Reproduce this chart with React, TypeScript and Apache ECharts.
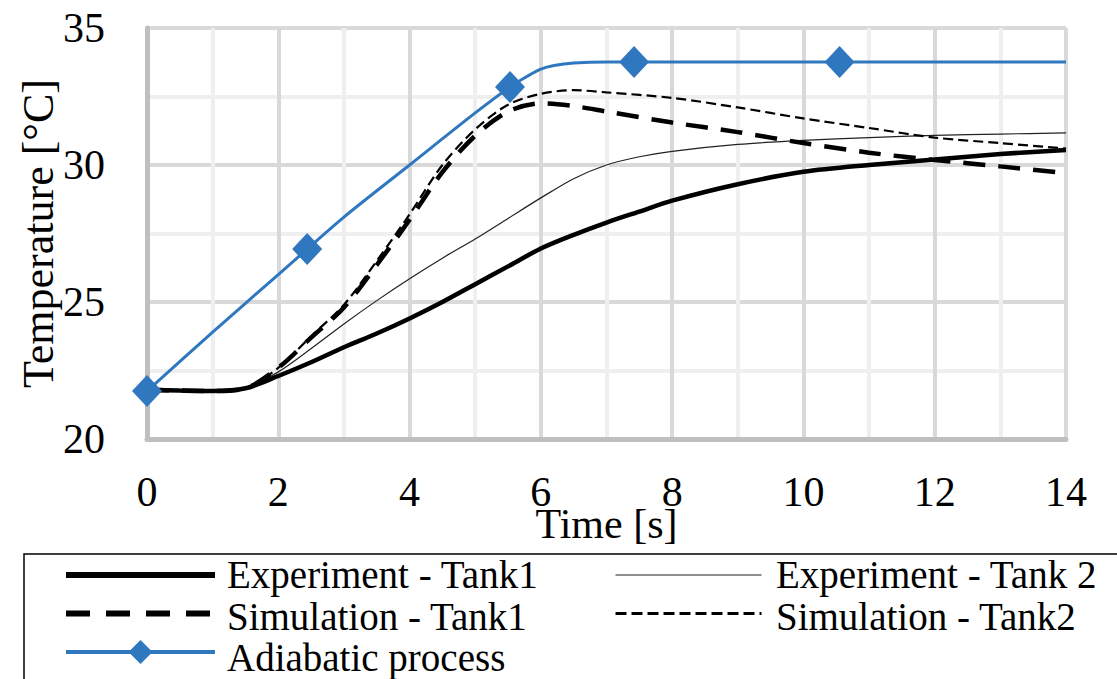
import React, { useEffect, useRef } from "react";
import * as echarts from "echarts";

const FONT = "'Times New Roman', 'Liberation Serif', serif";

// Time axis ticks and temperature axis ticks
const xTicks = { min: 0, max: 14, interval: 2 };
const yTicks = { min: 20, max: 35, interval: 5 };

// Experiment - Tank1
const expTank1Time = [0, 0.5, 1, 1.5, 2, 2.5, 3, 3.5, 4, 4.5, 5, 5.5, 6, 6.5, 7, 7.5, 8, 9, 10, 11, 12, 13, 14];
const expTank1Temp = [21.8, 21.77, 21.75, 21.85, 22.3, 22.8, 23.35, 23.85, 24.4, 25.0, 25.65, 26.3, 26.95, 27.45, 27.9, 28.3, 28.7, 29.3, 29.75, 30.0, 30.2, 30.4, 30.55];

// Experiment - Tank 2
const expTank2Time = [0, 0.5, 1, 1.5, 2, 2.5, 3, 3.5, 4, 4.5, 5, 5.5, 6, 6.5, 7, 7.5, 8, 9, 10, 11, 12, 13, 14];
const expTank2Temp = [21.8, 21.77, 21.75, 21.85, 22.45, 23.3, 24.2, 25.05, 25.85, 26.6, 27.3, 28.05, 28.8, 29.5, 30.0, 30.3, 30.5, 30.75, 30.9, 31.0, 31.08, 31.13, 31.17];

// Simulation - Tank1
const simTank1Time = [0, 0.5, 1, 1.5, 2, 2.5, 3, 3.5, 4, 4.5, 5, 5.5, 6, 6.5, 7, 8, 9, 10, 11, 12, 13, 14];
const simTank1Temp = [21.8, 21.77, 21.75, 21.85, 22.6, 23.7, 24.8, 26.35, 28.0, 29.74, 31.07, 31.95, 32.25, 32.15, 31.95, 31.55, 31.2, 30.8, 30.45, 30.18, 29.95, 29.7];

// Simulation - Tank2
const simTank2Time = [0, 0.5, 1, 1.5, 2, 2.5, 3, 3.5, 4, 4.5, 5, 5.5, 6, 6.5, 7, 8, 9, 10, 11, 12, 13, 14];
const simTank2Temp = [21.8, 21.77, 21.75, 21.85, 22.6, 23.75, 24.9, 26.5, 28.2, 30.0, 31.3, 32.2, 32.6, 32.73, 32.65, 32.45, 32.1, 31.7, 31.35, 31.0, 30.8, 30.6];

// Adiabatic process
const adiabaticTime = [0, 1, 2, 2.44, 3, 4, 5, 5.53, 5.8, 6, 6.2, 6.5, 7, 7.42, 9, 10.55, 12, 14];
const adiabaticTemp = [21.75, 23.9, 26.0, 26.93, 28.1, 30.0, 31.9, 32.85, 33.25, 33.5, 33.63, 33.72, 33.76, 33.76, 33.76, 33.76, 33.76, 33.76];
const adiabaticMarkerTimes = [0, 2.44, 5.53, 7.42, 10.55];

const seriesNames = [
  "Experiment - Tank1",
  "Experiment - Tank 2",
  "Simulation - Tank1",
  "Simulation - Tank2",
  "Adiabatic process",
];

// legend layout: two columns of series names
const legendColumn1 = [seriesNames[0], seriesNames[2], seriesNames[4]];
const legendColumn2 = [seriesNames[1], seriesNames[3]];

const pairs = (ts: number[], vs: number[]) => ts.map((t, i) => [t, vs[i]]);

const ROW_STEP = 41.5;
const ROW1_CENTER = 575;

export default function App() {
  const ref = useRef<HTMLDivElement>(null);
  useEffect(() => {
    const chart = echarts.init(ref.current!, null, { renderer: "svg" });
    const axisCommon = {
      type: "value",
      axisLine: { show: true, lineStyle: { color: "#bfbfbf", width: 5 } },
      axisTick: { show: false },
      splitLine: { show: true, lineStyle: { color: "#d9d9d9", width: 4 } },
      minorTick: { show: false, splitNumber: 2 },
      minorSplitLine: { show: true, lineStyle: { color: "#efefef", width: 4 } },
      nameLocation: "middle",
      nameMoveOverlap: false,
    };
    const blue = "#2f78c0";
    const thick = { color: "#000", width: 4.5 };
    const thin = { color: "#222", width: 1.2 };
    const thickDash = { color: "#000", width: 4.5, type: [22, 13] };
    const thinDash = { color: "#000", width: 2.2, type: [10, 5] };
    const blueLine = { color: blue, width: 3 };
    const legendLineStyles: Record<string, any> = {
      [seriesNames[0]]: { width: 6 },
      [seriesNames[1]]: { width: 1.2 },
      [seriesNames[2]]: { width: 6, type: [24, 16] },
      [seriesNames[3]]: { width: 3, type: [11, 5] },
      [seriesNames[4]]: { width: 4 },
    };
    const legendItem = (name: string) => ({
      name,
      lineStyle: legendLineStyles[name],
      ...(name === seriesNames[4] ? {} : { itemStyle: { opacity: 0 } }),
    });
    const legendCommon = {
      top: ROW1_CENTER - 15,
      orient: "vertical",
      padding: 0,
      itemGap: ROW_STEP - 30,
      itemHeight: 30,
      selectedMode: false,
      formatter: () => "",
    };
    chart.setOption({
      animation: false,
      backgroundColor: "#fff",
      textStyle: { fontFamily: FONT },
      grid: { left: 147, right: 51, top: 28, bottom: 240 },
      xAxis: {
        ...axisCommon,
        min: xTicks.min,
        max: xTicks.max,
        interval: xTicks.interval,
        name: "Time [s]",
        nameGap: 75,
        nameTextStyle: { fontSize: 42, fontFamily: FONT, color: "#000", lineHeight: 20 },
        axisLabel: { fontSize: 42, fontFamily: FONT, color: "#000", margin: 36, lineHeight: 34 },
      },
      yAxis: {
        ...axisCommon,
        min: yTicks.min,
        max: yTicks.max,
        interval: yTicks.interval,
        name: "Temperature [°C]",
        nameGap: 86,
        nameRotate: 90,
        nameTextStyle: { fontSize: 44, fontFamily: FONT, color: "#000", lineHeight: 46 },
        axisLabel: { fontSize: 42, fontFamily: FONT, color: "#000", margin: 42 },
      },
      legend: [
        { ...legendCommon, left: 63, itemWidth: 149, data: legendColumn1.map(legendItem) },
        { ...legendCommon, left: 614, itemWidth: 146, data: legendColumn2.map(legendItem) },
      ],
      graphic: [
        {
          type: "rect",
          silent: true,
          shape: { x: 24, y: 554, width: 1200, height: 200 },
          style: { fill: "none", stroke: "#000", lineWidth: 1.5 },
          z: -1,
        },
      ],
      series: [
        {
          name: seriesNames[0],
          type: "line",
          data: pairs(expTank1Time, expTank1Temp),
          symbol: "none",
          smooth: 0.3,
          lineStyle: thick,
          itemStyle: { color: "#000" },
          z: 4,
        },
        {
          name: seriesNames[1],
          type: "line",
          data: pairs(expTank2Time, expTank2Temp),
          symbol: "none",
          smooth: 0.3,
          lineStyle: thin,
          itemStyle: { color: "#222" },
          z: 3,
        },
        {
          name: seriesNames[2],
          type: "line",
          data: pairs(simTank1Time, simTank1Temp),
          symbol: "none",
          smooth: 0.3,
          lineStyle: thickDash,
          itemStyle: { color: "#000" },
          z: 3,
        },
        {
          name: seriesNames[3],
          type: "line",
          data: pairs(simTank2Time, simTank2Temp),
          symbol: "none",
          smooth: 0.3,
          lineStyle: thinDash,
          itemStyle: { color: "#000" },
          z: 3,
        },
        {
          name: seriesNames[4],
          type: "line",
          data: adiabaticTime.map((t, i) => ({
            value: [t, adiabaticTemp[i]],
            symbol: adiabaticMarkerTimes.includes(t) ? "diamond" : "none",
          })),
          symbol: "diamond",
          symbolSize: [30, 32],
          showAllSymbol: true,
          smooth: 0.3,
          lineStyle: blueLine,
          itemStyle: { color: blue },
          z: 5,
        },
      ],
    });
    return () => chart.dispose();
  }, []);

  const labelStyle = (x: number, i: number): React.CSSProperties => ({
    position: "absolute",
    left: x,
    top: ROW1_CENTER - ROW_STEP / 2 + i * ROW_STEP,
    height: ROW_STEP,
    lineHeight: `${ROW_STEP}px`,
    fontSize: 39,
    fontFamily: FONT,
    color: "#000",
    whiteSpace: "nowrap",
    margin: 0,
    padding: 0,
    pointerEvents: "none",
  });

  return (
    <div style={{ position: "fixed", left: 0, top: 0, width: 1117, height: 679, background: "#fff", overflow: "hidden" }}>
      <div ref={ref} style={{ position: "absolute", left: 0, top: 0, width: 1117, height: 679 }} />
      {legendColumn1.map((name, i) => (
        <span key={name} style={labelStyle(227, i)}>{name}</span>
      ))}
      {legendColumn2.map((name, i) => (
        <span key={name} style={labelStyle(776, i)}>{name}</span>
      ))}
    </div>
  );
}
